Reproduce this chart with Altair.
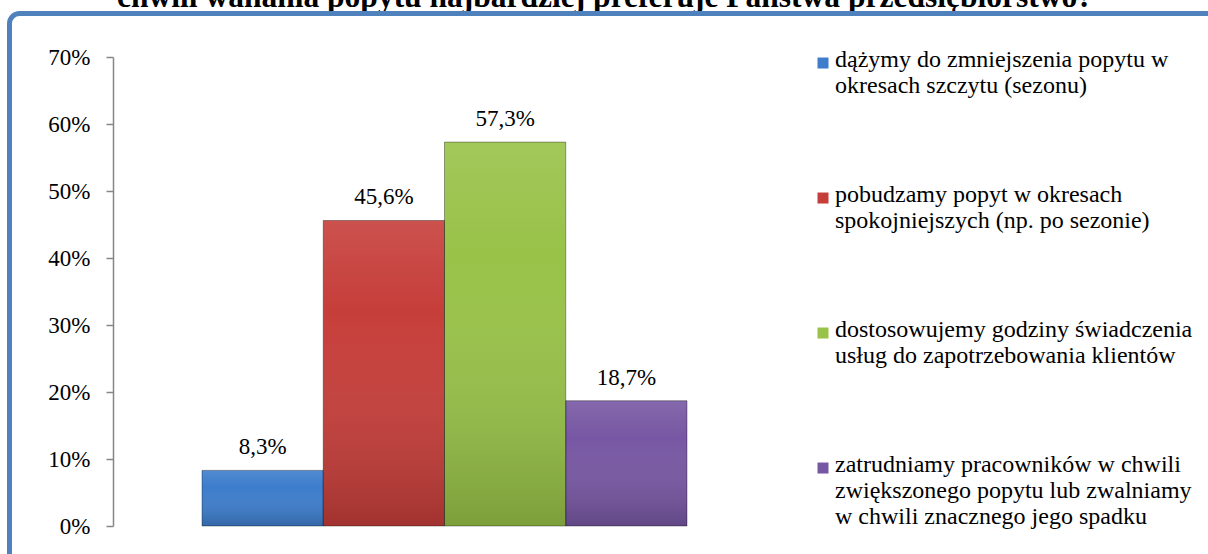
import altair as alt
import pandas as pd

series = [
    "dążymy do zmniejszenia popytu w|okresach szczytu (sezonu)",
    "pobudzamy popyt w okresach|spokojniejszych (np. po sezonie)",
    "dostosowujemy godziny świadczenia|usług do zapotrzebowania klientów",
    "zatrudniamy pracowników w chwili|zwiększonego popytu lub zwalniamy|w chwili znacznego jego spadku",
]
values = [8.3, 45.6, 57.3, 18.7]
colors = ["#3D7DCC", "#C63E3A", "#98C248", "#7757A3"]
y_ticks = [0, 10, 20, 30, 40, 50, 60, 70]
title_text = ["chwili wahania popytu najbardziej preferuje Państwa przedsiębiorstwo?"]

df = pd.DataFrame({"series": series, "value": values})

FONT = "Liberation Serif"

xenc = alt.X("series:N", sort=series,
             scale=alt.Scale(paddingInner=0, paddingOuter=0.734), axis=None)
yenc = alt.Y("value:Q", scale=alt.Scale(domain=[0, 70], nice=False),
             axis=alt.Axis(values=y_ticks, labelExpr="datum.value + '%'", title=None,
                           grid=False, domainColor="#868686", tickColor="#868686",
                           tickSize=7, domainWidth=1.5, tickWidth=1.5,
                           labelFont=FONT, labelFontSize=23, labelColor="black",
                           labelPadding=16))

bars = alt.Chart(df).mark_bar().encode(
    x=xenc, y=yenc,
    color=alt.Color("series:N", sort=series,
                    scale=alt.Scale(domain=series, range=colors),
                    legend=alt.Legend(title=None, orient="none", legendX=698, legendY=-9,
                                      labelExpr="split(datum.label, '|')",
                                      labelFont=FONT, labelFontSize=24, labelColor="black",
                                      labelLimit=600,
                                      symbolType="M-1,-0.45L1,-0.45L1,1.55L-1,1.55Z",
                                      symbolSize=121,
                                      symbolStrokeWidth=0, rowPadding=85, padding=0,
                                      labelOffset=0, labelBaseline="middle")),
)

shade = alt.Gradient(
    gradient="linear", x1=0, y1=0, x2=0, y2=1,
    stops=[alt.GradientStop(color="rgba(255,255,255,0.10)", offset=0),
           alt.GradientStop(color="rgba(255,255,255,0.0)", offset=0.3),
           alt.GradientStop(color="rgba(0,0,0,0.18)", offset=1)],
)
overlay = alt.Chart(df).mark_bar(fill=shade, stroke="rgba(0,0,0,0.35)", strokeWidth=1).encode(
    x=xenc, y=yenc)

labels = alt.Chart(df).transform_calculate(
    lab="replace(format(datum.value, '.1f'), '.', ',') + '%'"
).mark_text(baseline="alphabetic", dy=-16, font=FONT, fontSize=23, color="black").encode(
    x=xenc, y=yenc, text="lab:N")

title = alt.Chart(pd.DataFrame({"t": title_text})).mark_text(
    baseline="alphabetic", align="center", font=FONT, fontSize=31.5, fontWeight="bold",
    color="black"
).encode(x=alt.value(492), y=alt.value(-50.5), text="t:N")

frame = alt.Chart(pd.DataFrame({"a": [0]})).mark_rect(
    fill="transparent", stroke="#4F81BD", strokeWidth=5, cornerRadius=10
).encode(x=alt.value(-103.5), y=alt.value(-43.5), x2=alt.value(1400), y2=alt.value(800))

chart = alt.layer(title, frame, bars, overlay, labels).properties(
    width=663, height=469,
    autosize=alt.AutoSizeParams(type="none"),
    padding={"left": 113, "top": 57, "right": 432, "bottom": 28},
    background="white",
).configure_view(strokeWidth=0)

chart.save("out.html", embed_options={"renderer": "svg", "actions": False})
